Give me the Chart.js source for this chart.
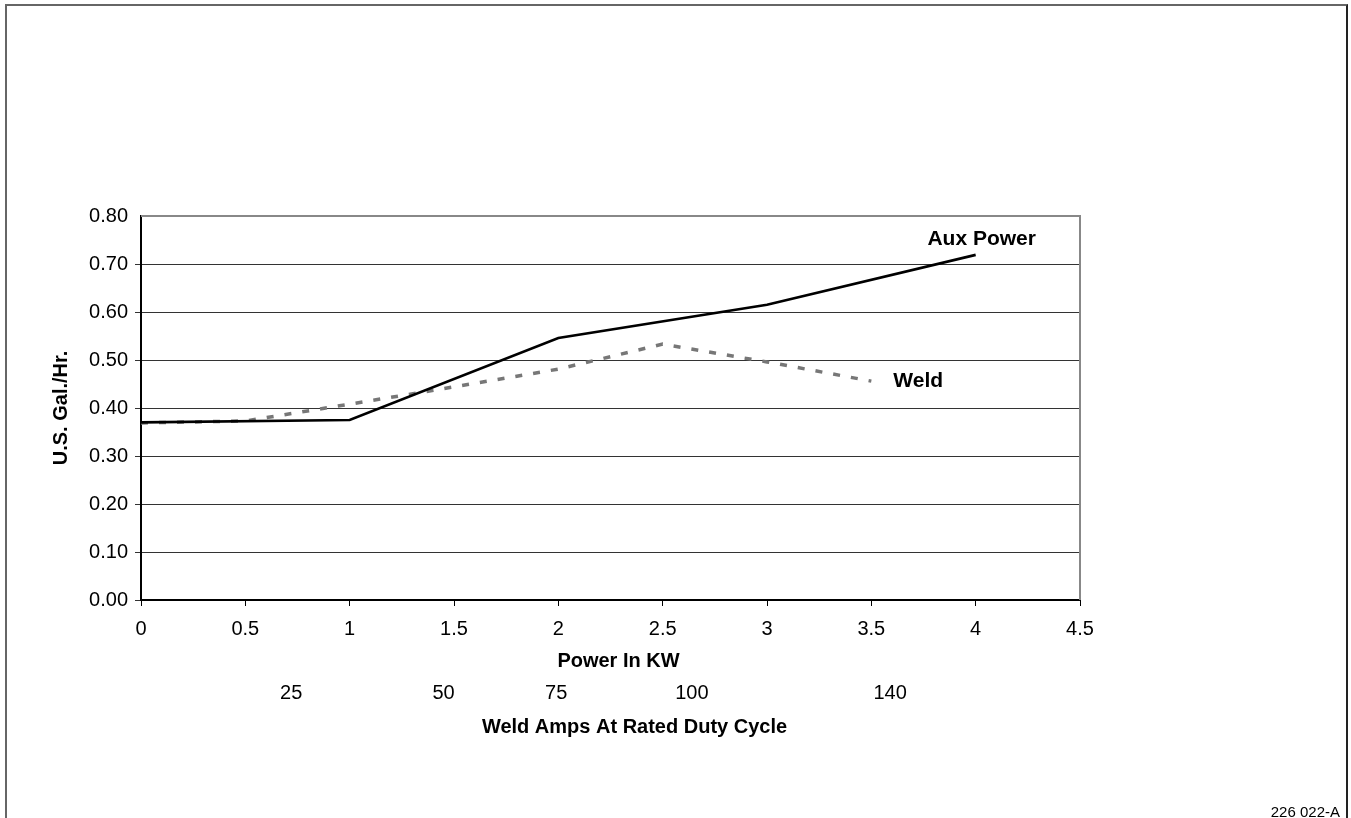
<!DOCTYPE html>
<html><head><meta charset="utf-8">
<script src="https://cdn.jsdelivr.net/npm/chart.js@4.4.1/dist/chart.umd.min.js"></script>
<style>
html,body{margin:0;padding:0;background:#fff;overflow:hidden}
#wrap{position:relative;width:1351px;height:818px;overflow:hidden}
#frame{position:absolute;left:5px;top:4px;width:1339px;height:840px;border-top:2px solid #666;border-left:2px solid #666;border-right:2px solid #222;pointer-events:none}
#code{position:absolute;right:11px;top:804px;font:15px 'Liberation Sans',Arial,sans-serif;line-height:15px;color:#000}
canvas{position:absolute;left:0;top:0}
</style></head><body>
<div id="wrap"><canvas id="c" width="1351" height="818"></canvas><div id="frame"></div><div id="code">226 022-A</div></div>
<script>
// ---- data ----
const auxPowerKW = [0, 1, 2, 3, 4];
const auxPowerGal = [0.370, 0.375, 0.546, 0.615, 0.719];
const weldKW = [0, 0.5, 1, 1.5, 2, 2.5, 3, 3.5];
const weldGal = [0.369, 0.373, 0.408, 0.444, 0.481, 0.533, 0.496, 0.456];
const seriesNames = ['Aux Power', 'Weld'];
const weldAmpLabels = ['25', '50', '75', '100', '140'];
const weldAmpAtKW = [0.72, 1.45, 1.99, 2.64, 3.59];
const xTitle = 'Power In KW';
const x2Title = 'Weld Amps At Rated Duty Cycle';
const yTitle = 'U.S. Gal./Hr.';

const FONT = "'Liberation Sans', Arial, Helvetica, sans-serif";
const tickFont = {family: FONT, size: 20};
const titleFont = {family: FONT, size: 20, weight: 'bold'};

const toPts = (xs, ys) => xs.map((x, i) => ({x: x, y: ys[i]}));

const endLabels = {
  id: 'endLabels',
  afterDatasetsDraw(chart, args, opts) {
    const ctx = chart.ctx;
    ctx.save();
    ctx.font = 'bold 21px ' + FONT;
    ctx.fillStyle = '#000';
    ctx.textBaseline = 'middle';
    chart.data.datasets.forEach((ds, i) => {
      const meta = chart.getDatasetMeta(i);
      const last = meta.data[meta.data.length - 1];
      const o = opts.offsets[i];
      ctx.textAlign = o.align;
      ctx.fillText(seriesNames[i], last.x + o.dx, last.y + o.dy);
    });
    ctx.restore();
  }
};

const bottomTitles = {
  id: 'bottomTitles',
  afterDraw(chart, args, opts) {
    const ctx = chart.ctx;
    const a = chart.chartArea;
    const mid = (a.left + a.right) / 2;
    ctx.save();
    ctx.font = 'bold 20px ' + FONT;
    ctx.fillStyle = '#000';
    ctx.textAlign = 'center';
    ctx.textBaseline = 'middle';
    ctx.fillText(xTitle, mid + opts.xShift, chart.scales.x.bottom - opts.xUp);
    ctx.fillText(x2Title, mid + opts.x2Shift, chart.scales.x2.bottom - opts.x2Up);
    ctx.restore();
  }
};

const plotFrame = {
  id: 'plotFrame',
  afterDraw(chart) {
    const {ctx, chartArea: a} = chart;
    ctx.save();
    ctx.strokeStyle = '#888';
    ctx.lineWidth = 2;
    ctx.beginPath();
    ctx.moveTo(a.left, a.top);
    ctx.lineTo(a.right, a.top);
    ctx.lineTo(a.right, a.bottom);
    ctx.stroke();
    ctx.restore();
  }
};

new Chart(document.getElementById('c'), {
  type: 'line',
  data: {
    datasets: [
      {label: seriesNames[0], data: toPts(auxPowerKW, auxPowerGal), borderColor: '#000', borderWidth: 2.6, pointRadius: 0, tension: 0, fill: false},
      {label: seriesNames[1], data: toPts(weldKW, weldGal), borderColor: '#777', borderWidth: 3.5, borderDash: [7, 11], pointRadius: 0, tension: 0, fill: false}
    ]
  },
  options: {
    responsive: false,
    animation: false,
    devicePixelRatio: 1,
    layout: {padding: {left: 49, top: 216, right: 271, bottom: 72}},
    plugins: {
      legend: {display: false},
      tooltip: {enabled: false},
      endLabels: {offsets: [{dx: 6, dy: -16, align: 'center'}, {dx: 22, dy: 0, align: 'left'}]},
      bottomTitles: {xShift: 8, xUp: 18.5, x2Shift: 24, x2Up: 19}
    },
    scales: {
      x: {
        type: 'linear', position: 'bottom', min: 0, max: 4.5, weight: 0,
        ticks: {stepSize: 0.5, autoSkip: false, maxRotation: 0, color: '#000', font: tickFont, padding: 11,
          callback: v => String(v)},
        grid: {drawOnChartArea: false, drawTicks: true, tickLength: 6, color: '#000', lineWidth: 1},
        border: {color: '#000', width: 2},
        title: {display: false},
        afterFit: s => { s.height = 80; }
      },
      x2: {
        type: 'linear', position: 'bottom', min: 0, max: 4.5, weight: 1,
        afterBuildTicks: s => { s.ticks = weldAmpAtKW.map(v => ({value: v})); },
        ticks: {autoSkip: false, maxRotation: 0, color: '#000', font: tickFont, padding: 1,
          callback: (v, i) => weldAmpLabels[i]},
        grid: {display: false, drawTicks: false, drawOnChartArea: false},
        border: {display: false},
        title: {display: false},
        afterFit: s => { s.height = 66; }
      },
      y: {
        type: 'linear', position: 'left', min: 0, max: 0.8,
        ticks: {stepSize: 0.1, color: '#000', font: tickFont, padding: 7,
          callback: v => Number(v).toFixed(2)},
        grid: {drawTicks: true, tickLength: 6,
          color: c => c.index === 8 ? 'rgba(0,0,0,0)' : '#333', lineWidth: 1},
        border: {color: '#000', width: 2},
        title: {display: true, text: yTitle, color: '#000', font: titleFont, padding: {top: 0, bottom: 0}},
        afterFit: s => { s.width = 92; }
      }
    }
  },
  plugins: [endLabels, bottomTitles, plotFrame]
});
</script>
</body></html>
